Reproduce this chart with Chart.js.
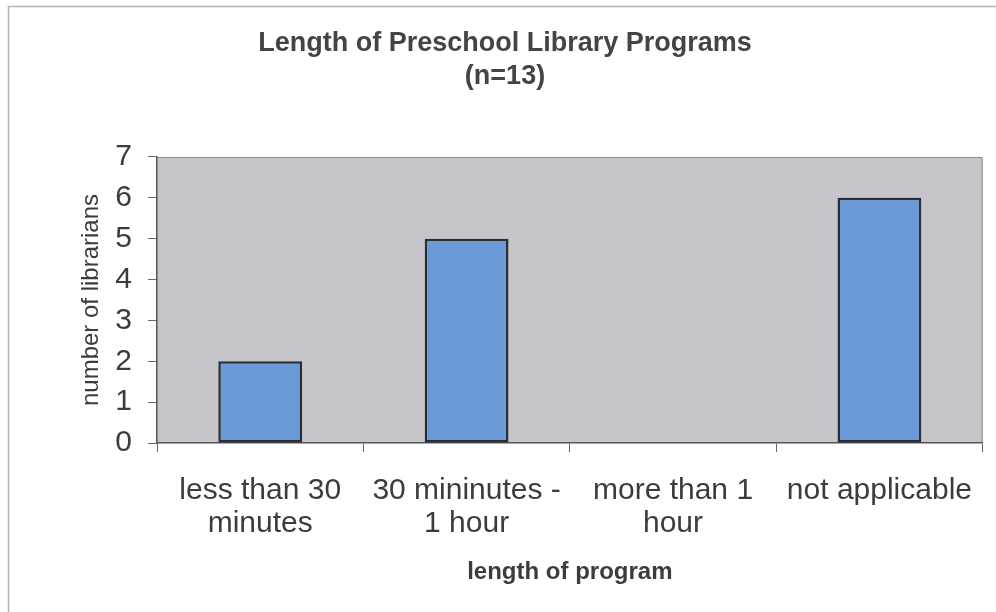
<!DOCTYPE html>
<html>
<head>
<meta charset="utf-8">
<script src="https://cdn.jsdelivr.net/npm/chart.js@4"></script>
<style>
    body { margin: 0; background: #fff; }
    #wrap { width: 996px; height: 612px; }
</style>
</head>
<body>
<div id="wrap"><canvas id="programChart"></canvas></div>
<script>
const categories = [["less than 30", "minutes"], ["30 mininutes -", "1 hour"], ["more than 1", "hour"], ["not applicable"]];
const librarians = [2, 5, 0, 6];
const titleLines = ["Length of Preschool Library Programs", "(n=13)"];

// grey plot background + outer frame
const framePlugin = {
    id: "framePlugin",
    beforeDraw(chart) {
        const c = chart.ctx;
        const a = chart.chartArea;
        c.save();
        c.strokeStyle = "#b4b4b4";
        c.lineWidth = 1.5;
        c.strokeRect(8.5, 6.5, chart.width + 10, chart.height + 10);
        c.fillStyle = "#c6c6ca";
        c.fillRect(a.left, a.top, a.right - a.left, a.bottom - a.top);
        c.strokeStyle = "#8c8c8c";
        c.lineWidth = 1;
        c.beginPath();
        c.moveTo(a.left, a.top + 0.5);
        c.lineTo(a.right - 0.5, a.top + 0.5);
        c.lineTo(a.right - 0.5, a.bottom);
        c.stroke();
        c.restore();
    }
};

const ctx = document.getElementById("programChart").getContext("2d");
const programChart = new Chart(ctx, {
    type: "bar",
    data: {
        labels: categories,
        datasets: [{
            data: librarians,
            backgroundColor: "#6a9ad8",
            borderColor: "#2a2e33",
            borderWidth: 2.5,
            borderSkipped: false,
            barPercentage: 0.406,
            categoryPercentage: 1
        }]
    },
    options: {
        responsive: true,
        maintainAspectRatio: false,
        animation: false,
        layout: { padding: { left: 26, right: 12, top: 0, bottom: 0 } },
        plugins: {
            legend: { display: false },
            tooltip: { enabled: false },
            title: {
                display: true,
                text: titleLines,
                color: "#444",
                font: { family: "Liberation Sans, Arial", size: 27, weight: "bold", lineHeight: 1.22 },
                padding: { top: 27.5, bottom: 63.6 }
            }
        },
        scales: {
            x: {
                grid: { drawOnChartArea: false, tickLength: 9, color: "#666", offset: true },
                border: { color: "#555", width: 1.5 },
                ticks: {
                    color: "#3c3c3c",
                    maxRotation: 0,
                    autoSkip: false,
                    padding: 22.5,
                    font: { family: "Liberation Sans, Arial", size: 30, lineHeight: 1.1 }
                },
                title: {
                    display: true,
                    text: "length of program",
                    color: "#3c3c3c",
                    font: { family: "Liberation Sans, Arial", size: 24, weight: "bold", lineHeight: 1.2 },
                    padding: { top: 0, bottom: 25.6 }
                },
                afterFit(scale) { scale.height = 169; }
            },
            y: {
                min: 0,
                max: 7,
                grid: { drawOnChartArea: false, tickLength: 9, color: "#666" },
                border: { color: "#555", width: 1.5 },
                ticks: {
                    stepSize: 1,
                    color: "#3c3c3c",
                    padding: 16,
                    font: { family: "Liberation Sans, Arial", size: 30 }
                },
                title: {
                    display: true,
                    text: "number of librarians",
                    color: "#3c3c3c",
                    font: { family: "Liberation Sans, Arial", size: 24, lineHeight: 1.2 },
                    padding: { top: 50.6, bottom: 0 }
                },
                afterFit(scale) { scale.width = 131; }
            }
        }
    },
    plugins: [framePlugin]
});
</script>
</body>
</html>
